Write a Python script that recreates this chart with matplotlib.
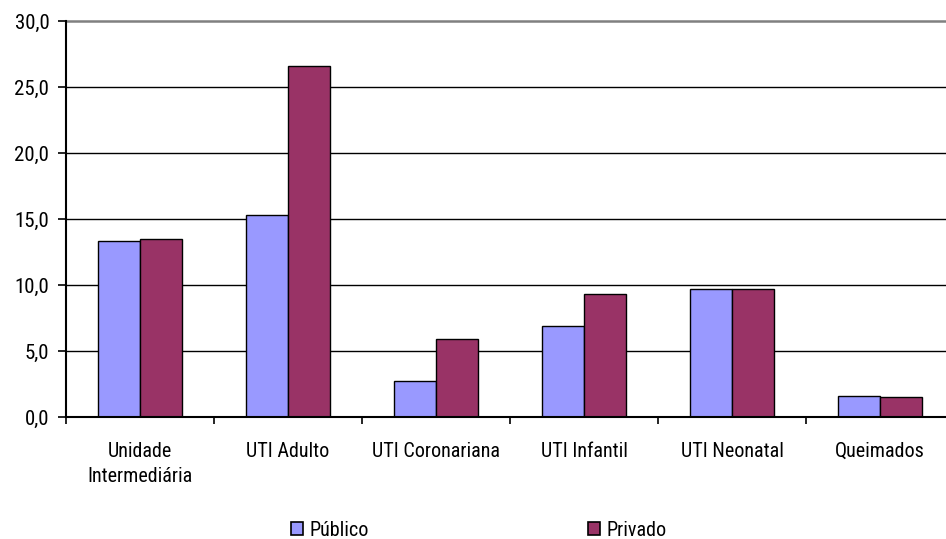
import matplotlib
matplotlib.use("Agg")
import matplotlib.pyplot as plt
import numpy as np
from matplotlib.patches import Patch
from matplotlib.ticker import FuncFormatter

categories = ["Unidade\nIntermediária", "UTI Adulto", "UTI Coronariana",
              "UTI Infantil", "UTI Neonatal", "Queimados"]
publico = [13.3, 15.3, 2.7, 6.9, 9.7, 1.6]
privado = [13.5, 26.6, 5.9, 9.3, 9.7, 1.5]
series_names = ["Público", "Privado"]
yticks = [0, 5, 10, 15, 20, 25, 30]

plt.rcParams['font.family'] = ['Roboto Condensed', 'DejaVu Sans']

fig = plt.figure(figsize=(9.46, 5.39), dpi=100)
W, H = 946, 539
left, right, top, bottom = 66, 954, 21, 417
ax = fig.add_axes([left / W, 1 - bottom / H, (right - left) / W, (bottom - top) / H])

x = np.arange(len(categories)) + 0.5
bw = 0.284
c_pub = "#9999FF"
c_priv = "#993366"
ax.bar(x - bw / 2, publico, bw, color=c_pub, edgecolor="black", linewidth=1.0, zorder=3)
ax.bar(x + bw / 2, privado, bw, color=c_priv, edgecolor="black", linewidth=1.0, zorder=3)

ax.set_xlim(0, len(categories))
ax.set_ylim(0, 30)

for v in yticks[1:-1]:
    ax.axhline(v, color="black", linewidth=1.0, zorder=1)
ax.axhline(30, color="#808080", linewidth=1.8, zorder=1, clip_on=False)

for s in ["top", "right"]:
    ax.spines[s].set_visible(False)
ax.spines["left"].set_linewidth(1.5)
ax.spines["bottom"].set_linewidth(1.5)
ax.spines["left"].set_zorder(4)
ax.spines["bottom"].set_zorder(4)

ax.set_yticks(yticks)
ax.yaxis.set_major_formatter(FuncFormatter(lambda v, p: f"{v:.1f}".replace(".", ",")))
ax.tick_params(axis="y", length=6, width=1.2, labelsize=15, pad=6, colors="black")

ax.set_xticks(x)
ax.set_xticklabels(categories, linespacing=1.4)
ax.set_xticks(np.arange(len(categories) + 1), minor=True)
ax.tick_params(axis="x", which="major", length=0, labelsize=14.5, pad=18)
ax.tick_params(axis="x", which="minor", length=5, width=1.2, direction="out")

handles = [Patch(facecolor=c_pub, edgecolor="black", linewidth=1.2),
           Patch(facecolor=c_priv, edgecolor="black", linewidth=1.2)]
fig.legend(handles, series_names, loc="center", bbox_to_anchor=(479 / W, 1 - 530 / H),
           ncol=2, frameon=False, fontsize=14.5, handlelength=0.6, handleheight=0.6,
           handletextpad=0.3, columnspacing=10.9, borderaxespad=0)

fig.savefig("out.png", dpi=100)
